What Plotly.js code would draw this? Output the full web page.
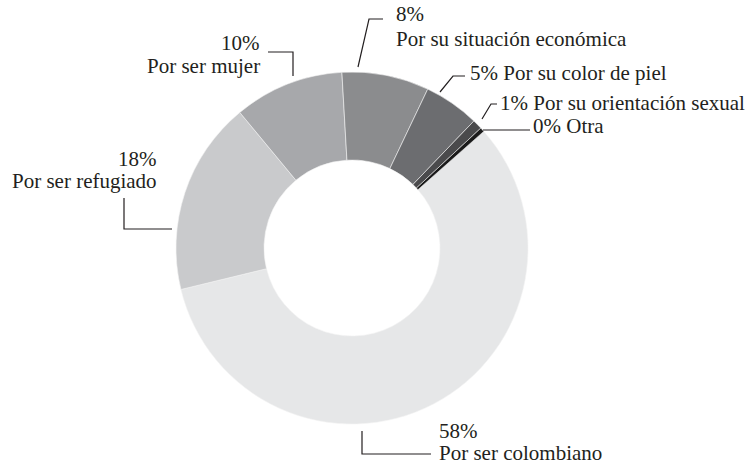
<!DOCTYPE html>
<html>
<head>
<meta charset="utf-8">
<script src="https://cdn.plot.ly/plotly-3.0.1.min.js"></script>
<style>html,body{margin:0;padding:0;background:#fff;}#chart{width:750px;height:468px;}</style>
</head>
<body>
<div id="chart"></div>
<script>
// ---- data ----
const categories = ["Por ser colombiano", "Por ser refugiado", "Por ser mujer",
  "Por su situación económica", "Por su color de piel",
  "Por su orientación sexual", "Otra"];
const values = [57.8, 17.8, 10.1, 8.0, 5.1, 0.9, 0.4];
const pctLabels = ["58%", "18%", "10%", "8%", "5%", "1%", "0%"];
const colors = ["#e6e7e8", "#c9cacc", "#a7a8ab", "#8b8c8e", "#6c6d70", "#4a4a4c", "#1a1a1a"];

// ---- layout helpers (pixel -> paper) ----
const W = 750, H = 468;
const px = x => x / W;
const py = y => 1 - y / H;
const cx = 352, cy = 248, R = 176;

const font = {family: "Liberation Serif, Times New Roman, serif", size: 21, color: "#231f20"};

// label placement: [categoryIndex, x, yPct, yCategory (null = same line), xanchor]
const labelPos = [
  [0, 437, 431, 453, "left"],
  [1, 159, 158.5, 181, "right"],
  [2, 262, 43, 66.5, "right"],
  [3, 394, 14, 38.5, "left"],
  [4, 468, 73, null, "left"],
  [5, 498, 102.5, null, "left"],
  [6, 531, 126.5, null, "left"]
];
// leader lines (pixel polylines)
const leaders = [
  [[362, 431], [362, 454], [431, 454]],
  [[172, 229], [124, 229], [124, 198]],
  [[293, 76], [293, 52], [268, 52]],
  [[358, 67], [369, 19], [383, 19]],
  [[440, 92], [453, 76], [465, 76]],
  [[482, 119], [491, 104], [497, 104]],
  [[483, 130], [530, 130]]
];

const annotations = [];
labelPos.forEach(([i, x, y1, y2, anchor]) => {
  const base = {xref: "paper", yref: "paper", x: px(x), xanchor: anchor,
    yanchor: "middle", align: anchor, showarrow: false, font: font};
  if (y2 === null) {
    annotations.push(Object.assign({}, base, {y: py(y1), text: pctLabels[i] + " " + categories[i]}));
  } else {
    annotations.push(Object.assign({}, base, {y: py(y1), text: pctLabels[i]}));
    annotations.push(Object.assign({}, base, {y: py(y2), text: categories[i]}));
  }
});

const shapes = leaders.map(pts => ({
  type: "path", xref: "paper", yref: "paper",
  path: pts.map((p, k) => (k ? "L" : "M") + px(p[0]) + "," + py(p[1])).join(" "),
  line: {color: "#231f20", width: 1.2}
}));

const trace = {
  type: "pie",
  labels: categories,
  values: values,
  hole: 0.5,
  sort: false,
  direction: "clockwise",
  rotation: 48.5,
  textinfo: "none",
  hoverinfo: "label+percent",
  marker: {colors: colors, line: {color: "#f4f4f4", width: 0.6}},
  domain: {x: [px(cx - R), px(cx + R)], y: [py(cy + R), py(cy - R)]},
  showlegend: false
};

Plotly.newPlot("chart", [trace], {
  width: W, height: H,
  margin: {l: 0, r: 0, t: 0, b: 0},
  paper_bgcolor: "#ffffff",
  showlegend: false,
  annotations: annotations,
  shapes: shapes
}, {displayModeBar: false, staticPlot: true});
</script>
</body>
</html>
